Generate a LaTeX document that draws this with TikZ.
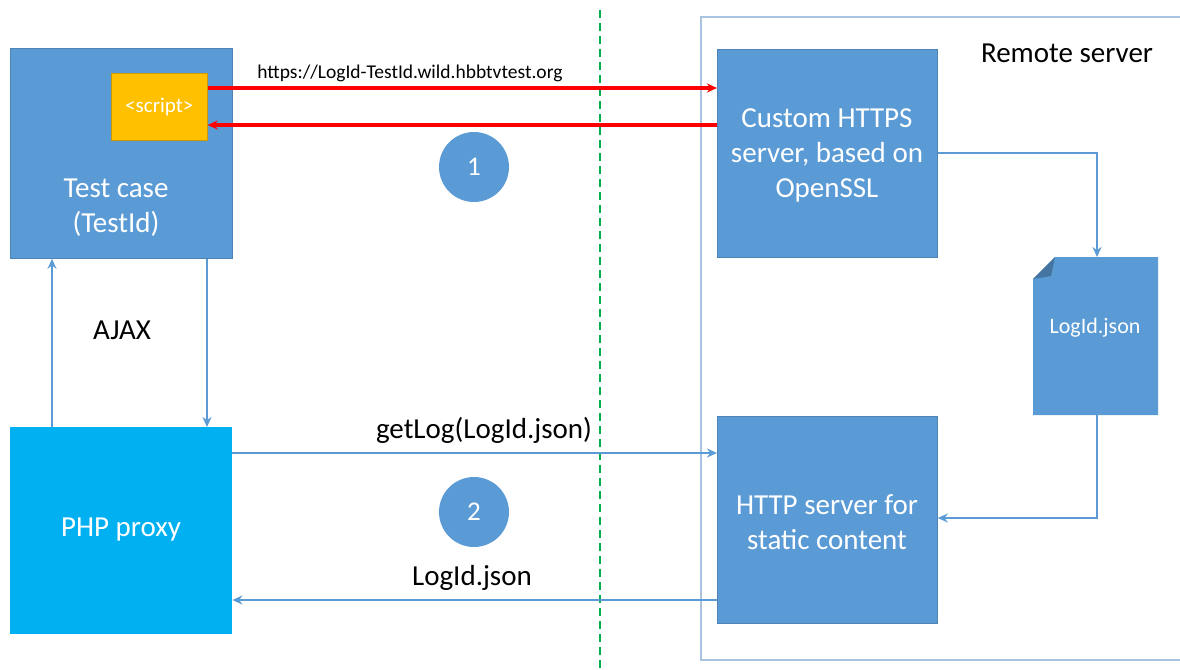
\documentclass[tikz,border=0pt]{standalone}
\usepackage{fontspec}
\setmainfont{Carlito}
\usetikzlibrary{arrows.meta}
\definecolor{boxblue}{HTML}{5B9BD5}
\definecolor{proxyblue}{HTML}{00B0F0}
\definecolor{scriptyellow}{HTML}{FFC000}
\definecolor{framegrey}{HTML}{A9C4E0}
\definecolor{dashgreen}{HTML}{00B050}
\tikzset{
  blk/.style={fill=boxblue, draw=boxblue!85!black, line width=0.8pt, inner sep=0pt},
  wlbl/.style={text=white, align=center, inner sep=0pt, font=\fontsize{29}{35}\selectfont},
  conn/.style={draw=boxblue, line width=2.8pt, -{Stealth[length=10pt,width=9pt]}},
  redconn/.style={draw=red, line width=3.2pt, -{Stealth[length=10pt,width=9pt]}},
  lbl/.style={text=black, font=\fontsize{29}{34}\selectfont},
  numc/.style={circle, fill=boxblue, text=white, minimum size=70pt, inner sep=0pt, font=\fontsize{27}{30}\selectfont}
}
\begin{document}
\begin{tikzpicture}[x=1pt,y=-1pt]
\useasboundingbox (0,0) rectangle (1180,669);
% remote server frame
\draw[framegrey, line width=1.8pt] (1185,17) -- (701,17) -- (701,660) -- (1185,660);
\node[lbl, anchor=center] (remote) at (1067,53) {Remote server};
% green dashed divider
\draw[dashgreen, line width=2.4pt, dash pattern=on 8pt off 5pt] (600,10) -- (600,669);
% left boxes
\node[blk, minimum width=222pt, minimum height=210pt, anchor=north west] (test) at (10,48) {};
\node[wlbl] (testlbl) at (116,208) {Test case\\(TestId)};
\node[fill=scriptyellow, draw=scriptyellow!80!black, line width=0.6pt, minimum width=96pt, minimum height=67pt, anchor=north west, text=white, font=\fontsize{21}{24}\selectfont, inner sep=0pt] (script) at (111,73) {<script>};
\node[fill=proxyblue, minimum width=222pt, minimum height=207pt, anchor=north west, inner sep=0pt] (proxy) at (10,427) {};
\node[wlbl] (proxylbl) at (121,530) {PHP proxy};
% right boxes
\node[blk, minimum width=220pt, minimum height=208pt, anchor=north west] (https) at (717,49) {};
\node[wlbl] (httpslbl) at (827,155) {Custom HTTPS\\server, based on\\OpenSSL};
\node[blk, minimum width=220pt, minimum height=207pt, anchor=north west] (http) at (717,416) {};
\node[wlbl] (httplbl) at (827,522) {HTTP server for\\static content};
% file shape
\fill[boxblue] (1055,257) -- (1158,257) -- (1158,415) -- (1033,415) -- (1033,279) -- cycle;
\fill[boxblue!75!black] (1033,279) -- (1055,257) -- (1051,276) -- cycle;
\node[text=white, font=\fontsize{22}{26}\selectfont] (filelbl) at (1095,328) {LogId.json};
\coordinate (filetop) at (1097,257);
\coordinate (filebot) at (1097,415);
% circles
\node[numc] (c1) at (474,167) {1};
\node[numc] (c2) at (474,512) {2};
% red arrows
\draw[redconn] (script.east |- 0,88) -- (https.west |- 0,88);
\draw[redconn] (https.west |- 0,125) -- (script.east |- 0,125);
\node[font=\fontsize{19.5}{23}\selectfont] (url) at (410,73) {https://LogId-TestId.wild.hbbtvtest.org};
% AJAX arrows
\draw[conn] (proxy.north -| 52,0) -- (test.south -| 52,0);
\draw[conn] (test.south -| 207,0) -- (proxy.north -| 207,0);
\node[lbl] (ajax) at (122,330) {AJAX};
% getLog / LogId.json
\draw[conn] (proxy.east |- 0,453) -- (http.west |- 0,453);
\node[lbl] (getlog) at (484,430) {getLog(LogId.json)};
\draw[conn] (http.west |- 0,600) -- (proxy.east |- 0,600);
\node[lbl] (logid) at (472,578) {LogId.json};
% remote flows
\draw[conn] (https.east |- 0,153) -- (1097,153) -- (filetop);
\draw[conn] (filebot) -- (1097,518) -- (http.east |- 0,518);
\end{tikzpicture}
\end{document}
